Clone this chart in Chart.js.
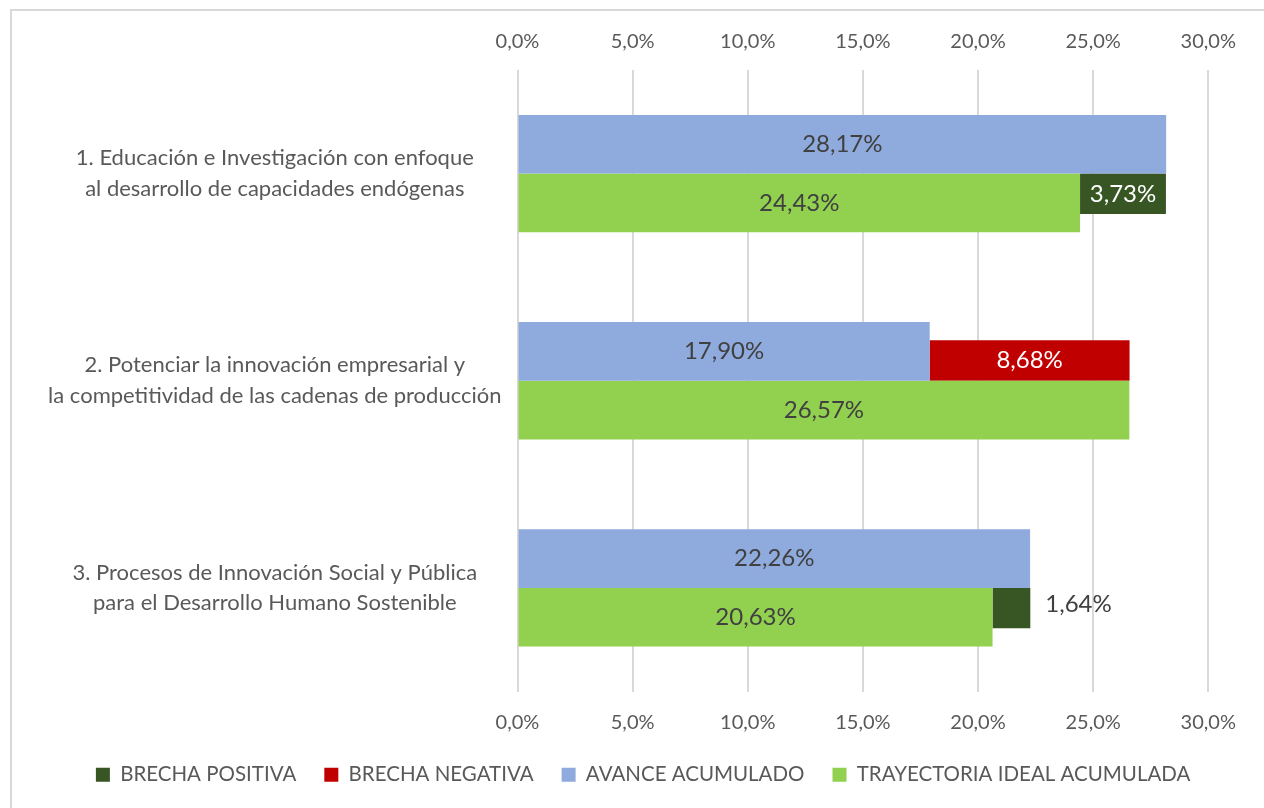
<!DOCTYPE html>
<html><head><meta charset="utf-8">
<script src="https://cdn.jsdelivr.net/npm/chart.js@4.4.0/dist/chart.umd.min.js"></script>
<style>
html,body{margin:0;padding:0;background:#fff;overflow:hidden;}
#wrap{position:relative;width:1264px;height:808px;overflow:hidden;}
#frame{position:absolute;left:10px;top:9px;width:1400px;height:1000px;border:2px solid #D9D9D9;box-sizing:border-box;}
canvas{position:absolute;left:0;top:0;}
</style></head><body>
<div id="wrap"><div id="frame"></div><canvas id="c" width="1264" height="808"></canvas></div>
<script>
const categories = [
  ["1. Educación e Investigación con enfoque", "al desarrollo de capacidades endógenas"],
  ["2. Potenciar la innovación empresarial y", "la competitividad de las cadenas de producción"],
  ["3. Procesos de Innovación Social y Pública", "para el Desarrollo Humano Sostenible"]
];
const avanceAcumulado = [28.17, 17.90, 22.26];
const trayectoriaIdeal = [24.43, 26.57, 20.63];
const brechaPositiva = [3.73, null, 1.64];
const brechaNegativa = [null, 8.68, null];
const tickLabels = ["0,0%", "5,0%", "10,0%", "15,0%", "20,0%", "25,0%", "30,0%"];
const legendOrder = ["BRECHA POSITIVA", "BRECHA NEGATIVA", "AVANCE ACUMULADO", "TRAYECTORIA IDEAL ACUMULADA"];

const FONT = "Lato";
const fmt = v => v.toFixed(2).replace(".", ",") + "%";

// floating ranges for the gap bars, built from the arrays above
const negRanges = brechaNegativa.map((g, i) => g == null ? null : [avanceAcumulado[i], avanceAcumulado[i] + g]);
const posRanges = brechaPositiva.map((g, i) => g == null ? null : [trayectoriaIdeal[i], trayectoriaIdeal[i] + g]);

// gap bars sit against the category centre line: above it (-1) or below it (+1)
const gapShift = {
  id: "gapShift",
  afterDatasetsUpdate(chart) {
    chart.data.datasets.forEach((ds, di) => {
      if (!ds.shiftDir) return;
      chart.getDatasetMeta(di).data.forEach(el => { el.y += ds.shiftDir * el.height / 2; });
    });
  }
};

// centre the legend row under the whole frame rather than the padded box
const legendCentre = {
  id: "legendCentre",
  afterLayout(chart) {
    const lg = chart.legend;
    if (!lg) return;
    const d = 34;
    lg.left += d; lg.right += d;
  }
};

const barLabels = {
  id: "barLabels",
  afterDatasetsDraw(chart) {
    const ctx = chart.ctx;
    ctx.save();
    ctx.font = "24px " + FONT;
    ctx.textBaseline = "middle";
    chart.data.datasets.forEach((ds, di) => {
      const meta = chart.getDatasetMeta(di);
      meta.data.forEach((el, i) => {
        const v = ds.valueLabels[i];
        if (v == null) return;
        const p = el.getProps(["x", "y", "base"], true);
        const l = Math.min(p.x, p.base), r = Math.max(p.x, p.base);
        const txt = fmt(v);
        const w = ctx.measureText(txt).width;
        if (r - l >= w + 8) {
          ctx.textAlign = "center";
          ctx.fillStyle = ds.labelColor;
          ctx.fillText(txt, (l + r) / 2, p.y);
        } else {
          ctx.textAlign = "left";
          ctx.fillStyle = "#404040";
          ctx.fillText(txt, r + 15, p.y - 4);
        }
      });
    });
    ctx.restore();
  }
};

new Chart(document.getElementById("c"), {
  type: "bar",
  data: {
    labels: categories,
    datasets: [
      { label: "AVANCE ACUMULADO", data: avanceAcumulado, valueLabels: avanceAcumulado, labelColor: "#404040",
        backgroundColor: "#8FAADC", borderWidth: 0, categoryPercentage: 0.566, barPercentage: 1 },
      { label: "TRAYECTORIA IDEAL ACUMULADA", data: trayectoriaIdeal, valueLabels: trayectoriaIdeal, labelColor: "#404040",
        backgroundColor: "#92D050", borderWidth: 0, categoryPercentage: 0.566, barPercentage: 1 },
      { label: "BRECHA NEGATIVA", data: negRanges, valueLabels: brechaNegativa, labelColor: "#FFFFFF", shiftDir: -1,
        backgroundColor: "#C00000", borderWidth: 0, grouped: false, categoryPercentage: 0.195, barPercentage: 1 },
      { label: "BRECHA POSITIVA", data: posRanges, valueLabels: brechaPositiva, labelColor: "#FFFFFF", shiftDir: 1,
        backgroundColor: "#375623", borderWidth: 0, grouped: false, categoryPercentage: 0.195, barPercentage: 1 }
    ]
  },
  options: {
    indexAxis: "y",
    responsive: false,
    animation: false,
    events: [],
    layout: { padding: { left: 10, right: 55.7, top: 14, bottom: 13 } },
    scales: {
      x: {
        type: "linear", position: "bottom", min: 0, max: 30,
        ticks: { stepSize: 5, padding: 19, color: "#595959", font: { family: FONT, size: 20 },
                 callback: (v, i) => tickLabels[i] },
        grid: { color: "#D9D9D9", lineWidth: 2, drawTicks: false },
        border: { display: false },
        afterFit: s => { s.height = 45; }
      },
      x2: {
        type: "linear", position: "top", min: 0, max: 30,
        ticks: { stepSize: 5, padding: 16, color: "#595959", font: { family: FONT, size: 20 },
                 callback: (v, i) => tickLabels[i] },
        grid: { display: false, drawTicks: false },
        border: { display: false },
        afterFit: s => { s.height = 56; }
      },
      y: {
        type: "category", position: "left", offset: true,
        grid: { display: false, drawTicks: false, offset: true },
        border: { display: false },
        ticks: { crossAlign: "center", padding: 16, color: "#595959",
                 font: { family: FONT, size: 22, lineHeight: 1.4 } },
        afterFit: s => { s.width = 507.5; }
      }
    },
    plugins: {
      legend: {
        position: "bottom",
        labels: {
          color: "#595959", font: { family: FONT, size: 20.5 },
          boxWidth: 14, boxHeight: 14, padding: 28,
          sort: (a, b) => legendOrder.indexOf(a.text) - legendOrder.indexOf(b.text)
        }
      },
      tooltip: { enabled: false }
    }
  },
  plugins: [gapShift, legendCentre, barLabels]
});
</script>
</body></html>
